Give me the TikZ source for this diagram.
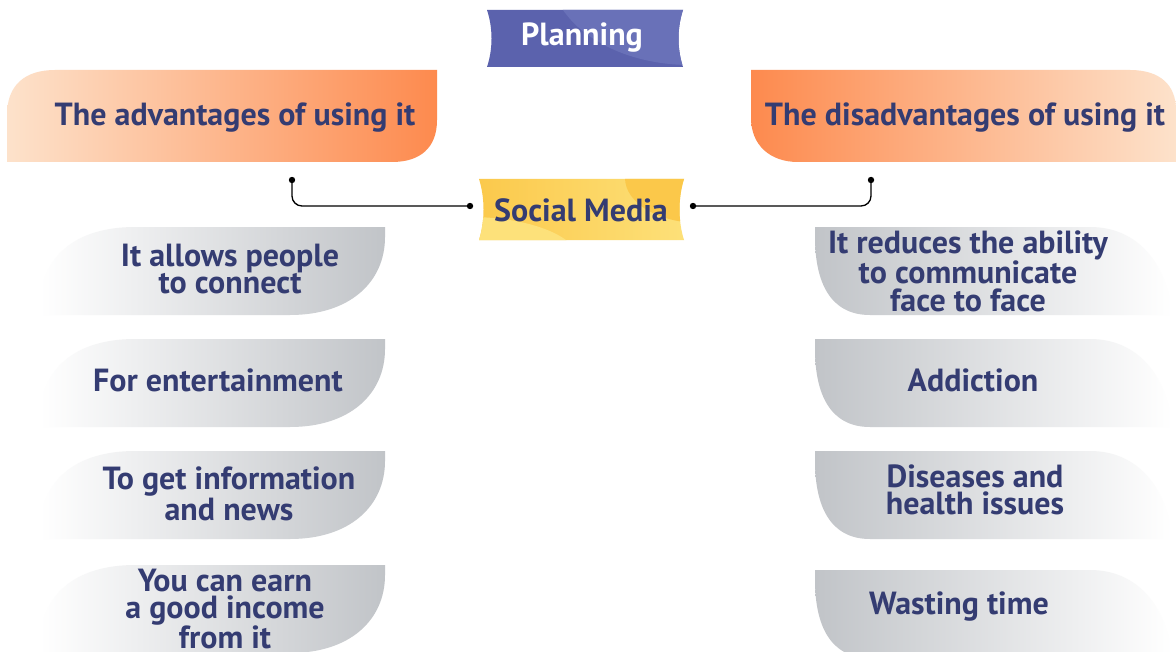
\documentclass[tikz,border=0pt]{standalone}
\usepackage{fontspec}
\setmainfont{PT Sans}
\definecolor{navy}{HTML}{343C72}
\definecolor{planA}{HTML}{5B62AD}
\definecolor{planB}{HTML}{6971B8}
\definecolor{orL}{HTML}{FDE2CB}
\definecolor{orR}{HTML}{FD8A4E}
\definecolor{greyc}{HTML}{C1C4C8}
\definecolor{yelA}{HTML}{FBC84A}
\definecolor{yelB}{HTML}{FDE17A}
\newcommand\leftleaf[1]{%
  \shade[left color=white, right color=greyc]
    (40,#1+88) -- (40,#1+80) .. controls (40,#1+30) and (75,#1) .. (135,#1)
    -- (385,#1) -- (385,#1+10) .. controls (385,#1+55) and (350,#1+88) .. (290,#1+88) -- cycle;}
\newcommand\rightleaf[1]{%
  \shade[left color=greyc, right color=white]
    (815,#1) -- (1090,#1) .. controls (1140,#1) and (1168,#1+40) .. (1172,#1+88)
    -- (870,#1+88) .. controls (830,#1+88) and (815,#1+55) .. (815,#1+10) -- cycle;}
\tikzset{
  txt/.style={text=navy, font=\bfseries\fontsize{24}{20.3}\selectfont, align=center, inner sep=0pt},
  conn/.style={draw=black, line width=1pt, rounded corners=7.5pt},
  dot/.style={fill=black}
}
\begin{document}
\begin{tikzpicture}[x=0.75pt,y=-0.75pt]
\useasboundingbox (0,0) rectangle (1176,652);
\fill[white] (0,0) rectangle (1176,652);

% Planning banner
\begin{scope}
  \path[clip] (487,10) -- (683,10) .. controls (677,28) and (677,49) .. (683,67)
    -- (487,67) .. controls (493,49) and (493,28) .. (487,10) -- cycle;
  \fill[planA] (480,0) rectangle (690,80);
  \fill[planB] (690,-30) ellipse [x radius=140, y radius=95];
\end{scope}
\node[txt, text=white] (plan) at (582,38) {Planning};

% Advantages header
\shade[left color=orL, right color=orR]
  (7,162) -- (7,115) .. controls (7,85) and (25,70) .. (55,70) -- (437,70)
  -- (437,120) .. controls (437,148) and (420,162) .. (392,162) -- cycle;
\node[txt] (adv) at (235,118) {The advantages of using it};

% Disadvantages header
\shade[left color=orR, right color=orL]
  (751,70) -- (1130,70) .. controls (1160,70) and (1176,85) .. (1176,110)
  -- (1176,162) -- (798,162) .. controls (770,162) and (751,145) .. (751,118) -- cycle;
\node[txt] (dis) at (965,118) {The disadvantages of using it};

% Social Media banner
\begin{scope}
  \path[clip] (479,179) -- (684,179) .. controls (678,198) and (678,221) .. (684,240)
    -- (479,240) .. controls (485,221) and (485,198) .. (479,179) -- cycle;
  \shade[left color=yelA, right color=yelB] (470,170) rectangle (690,250);
  \fill[yelB] (470,262) ellipse [x radius=110, y radius=45];
  \fill[yelA] (700,178) ellipse [x radius=75, y radius=45];
\end{scope}
\node[txt] (sm) at (581,210) {Social Media};

% connectors
\coordinate (la) at (292,180);
\coordinate (lb) at (470,206);
\coordinate (rb) at (693,206);
\coordinate (ra) at (871,180);
\draw[conn] (la) |- (lb);
\draw[conn] (rb) -| (ra);
\foreach \p in {la,lb,rb,ra} \fill[dot] (\p) circle (2.4pt);

% left leaves
\leftleaf{227}
\leftleaf{339}
\leftleaf{451}
\leftleaf{565}
\node[txt] (l1) at (230,269) {It allows people\\to connect};
\node[txt] (l2) at (218,380) {For entertainment};
\node[txt] (l3) at (229,494) {To get information\\and news};
\node[txt] (l4) at (225,609) {You can earn\\a good income\\from it};

% right leaves
\rightleaf{227}
\rightleaf{339}
\rightleaf{451}
\rightleaf{570}
\node[txt] (r1) at (968,271) {It reduces the ability\\to communicate\\face to face};
\node[txt] (r2) at (973,380) {Addiction};
\node[txt] (r3) at (975,490) {Diseases and\\health issues};
\node[txt] (r4) at (959,607) {Wasting time};
\end{tikzpicture}
\end{document}
